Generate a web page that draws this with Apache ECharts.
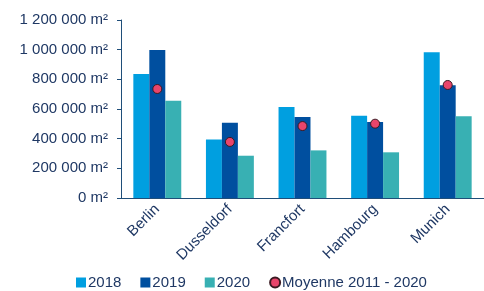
<!DOCTYPE html>
<html>
<head>
<meta charset="utf-8">
<script src="https://cdn.jsdelivr.net/npm/echarts@6/dist/echarts.min.js"></script>
<style>
html,body{margin:0;padding:0;background:#fff;}
#chart{width:484px;height:291px;}
</style>
</head>
<body>
<div id="chart"></div>
<script>
var villes = ['Berlin', 'Dusseldorf', 'Francfort', 'Hambourg', 'Munich'];
var v2018 = [836000, 395000, 613000, 555000, 982000];
var v2019 = [998000, 508000, 546000, 512000, 760000];
var v2020 = [656000, 285000, 321000, 308000, 551000];
var moyenne = [735000, 378000, 485000, 501000, 762000];

var txtColor = '#1f3864';
var axisColor = '#1f4e79';

function fmt(v){
	return String(v).replace(/\B(?=(\d{3})+(?!\d))/g, ' ') + ' m²';
}

var myChart = echarts.init(document.getElementById('chart'));
var option = {
	animation: false,
	textStyle: { fontFamily: 'Liberation Sans, Arial' },
	color: ['#009fe0', '#004f9f', '#38b0b3', '#e8456b'],
	grid: { left: 121, right: 0, top: 20, bottom: 93 },
	legend: {
		top: 270,
		left: 71,
		itemWidth: 10,
		itemHeight: 10,
		itemGap: 19,
		textStyle: { color: txtColor, fontSize: 15, padding: [0, 0, 0, -3] },
		data: [
			{ name: '2018', icon: 'rect' },
			{ name: '2019', icon: 'rect' },
			{ name: '2020', icon: 'rect' },
			{ name: 'Moyenne 2011 - 2020', icon: 'circle' }
		]
	},
	xAxis: {
		type: 'category',
		data: villes,
		axisLine: { lineStyle: { color: axisColor, width: 1 } },
		axisTick: { show: false },
		axisLabel: { rotate: 45, color: txtColor, fontSize: 15, margin: 9 }
	},
	yAxis: {
		type: 'value',
		min: 0,
		max: 1200000,
		interval: 200000,
		splitLine: { show: false },
		axisLine: { show: true, lineStyle: { color: axisColor } },
		axisTick: { show: true, length: 4, lineStyle: { color: axisColor } },
		axisLabel: { color: txtColor, fontSize: 15, margin: 13, formatter: fmt }
	},
	series: [
		{ name: '2018', type: 'bar', data: v2018, barGap: '0%', barCategoryGap: '34%' },
		{ name: '2019', type: 'bar', data: v2019 },
		{ name: '2020', type: 'bar', data: v2020 },
		{
			name: 'Moyenne 2011 - 2020',
			type: 'scatter',
			data: moyenne,
			symbolSize: 9,
			itemStyle: { opacity: 1, borderColor: '#3a1a22', borderWidth: 1 },
			z: 5
		}
	]
};
myChart.setOption(option);
</script>
</body>
</html>
